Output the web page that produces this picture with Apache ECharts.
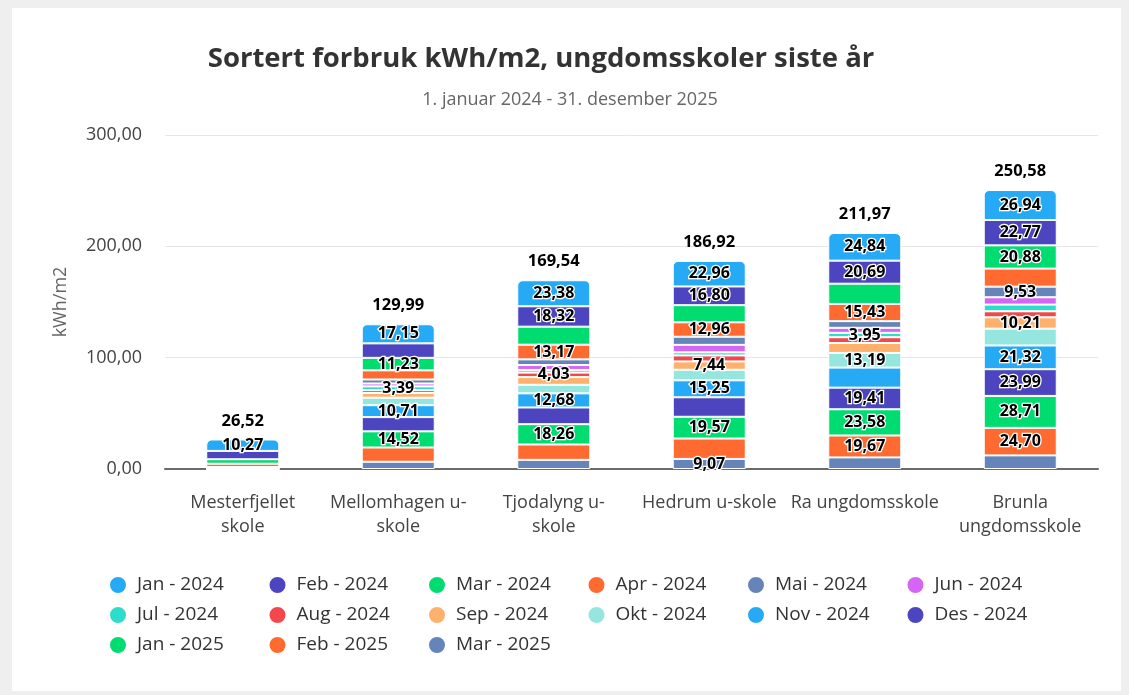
<!DOCTYPE html>
<html>
<head>
<meta charset="utf-8">
<script src="https://cdn.jsdelivr.net/npm/echarts@6/dist/echarts.min.js"></script>
<style>
  html, body {margin:0;padding:0;background:#efefef;}
  .card {position:absolute;left:12px;top:8px;width:1109px;height:683px;background:#fff;}
  #chart {position:absolute;left:0;top:0;width:1129px;height:695px;}
</style>
</head>
<body>
<div class="card"></div>
<div id="chart"></div>
<script>
    var schools = ['Mesterfjellet\nskole', 'Mellomhagen u-\nskole', 'Tjodalyng u-\nskole', 'Hedrum u-skole', 'Ra ungdomsskole', 'Brunla\nungdomsskole'];
    var months = ['Jan - 2024', 'Feb - 2024', 'Mar - 2024', 'Apr - 2024', 'Mai - 2024', 'Jun - 2024',
                  'Jul - 2024', 'Aug - 2024', 'Sep - 2024', 'Okt - 2024', 'Nov - 2024', 'Des - 2024',
                  'Jan - 2025', 'Feb - 2025', 'Mar - 2025'];
    var colors = ['#26aaf6', '#4d45bf', '#00dc70', '#ff6a30', '#6584b9', '#d566f5', '#2edccb', '#f4474b',
                  '#fdb16c', '#95e6df', '#26aaf6', '#4d45bf', '#00dc70', '#ff6a30', '#6584b9'];

    // kWh/m2 per skole, samme rekkefolge som months
    var mesterfjellet = [10.27, 7.5, 4.0, 3.0, 1.0, 0.3, 0.1, 0.1, 0.05, 0.05, 0.05, 0.05, 0.02, 0.01, 0.02];
    var mellomhagen = [17.15, 13.0, 11.23, 8.2, 3.6, 2.6, 3.39, 2.6, 4.2, 6.69, 10.71, 12.8, 14.52, 12.8, 6.5];
    var tjodalyng = [23.38, 18.32, 16.2, 13.17, 5.1, 4.4, 2.4, 4.03, 6.9, 7.7, 12.68, 15.0, 18.26, 13.8, 8.2];
    var hedrum = [22.96, 16.80, 15.4, 12.96, 7.3, 6.7, 2.8, 5.4, 7.44, 9.5, 15.25, 17.5, 19.57, 18.27, 9.07];
    var ra = [24.84, 20.69, 18.2, 15.43, 6.0, 4.5, 3.95, 5.2, 8.9, 13.19, 18.0, 19.41, 23.58, 19.67, 10.41];
    var brunla = [26.94, 22.77, 20.88, 16.2, 9.53, 6.6, 6.0, 5.4, 10.21, 15.1, 21.32, 23.99, 28.71, 24.70, 12.23];
    var values = [mesterfjellet, mellomhagen, tjodalyng, hedrum, ra, brunla];

    // hvilke maneder som har synlig verdi i stolpen
    var labelled = [[0], [0, 2, 6, 10, 12], [0, 1, 3, 7, 10, 12], [0, 1, 3, 8, 10, 12, 14],
                    [0, 1, 3, 6, 9, 11, 12, 13], [0, 1, 2, 4, 8, 10, 11, 12, 13]];

    var font = '"Open Sans", sans-serif';

    function fmt(v) {
        return v.toFixed(2).replace('.', ',');
    }

    var totals = values.map(function (row) {
        return row.reduce(function (a, b) { return a + b; }, 0);
    });

    var series = [];
    // forste maned skal ligge overst, sa serien legges inn baklengs
    for (var m = months.length - 1; m >= 0; m--) {
        series.push({
            name: months[m],
            type: 'bar',
            stack: 'sum',
            barWidth: 73,
            itemStyle: {
                color: colors[m],
                borderColor: '#fff',
                borderWidth: 1,
                borderRadius: m === 0 ? [5, 5, 0, 0] : 0
            },
            label: {
                position: 'inside',
                fontFamily: font,
                fontSize: 16,
                fontWeight: 'bold',
                color: '#000',
                textBorderColor: '#fff',
                textBorderWidth: 2.5,
                formatter: function (p) { return fmt(p.value); }
            },
            data: values.map(function (row, i) {
                return {value: row[m], label: {show: labelled[i].indexOf(m) >= 0}};
            })
        });
    }
    series.push({
        name: 'Sum',
        type: 'bar',
        stack: 'sum',
        barWidth: 73,
        itemStyle: {color: 'transparent'},
        label: {
            show: true,
            position: 'top',
            distance: 10,
            fontFamily: font,
            fontSize: 16.5,
            fontWeight: 'bold',
            color: '#000',
            formatter: function (p) { return fmt(totals[p.dataIndex]); }
        },
        data: totals.map(function () { return 0; })
    });

    var chart = echarts.init(document.getElementById('chart'));
    chart.setOption({
        animation: false,
        graphic: [
            {type: 'text', x: 541, y: 59, style: {text: 'Sortert forbruk kWh/m2, ungdomsskoler siste år', align: 'center',
                verticalAlign: 'middle', fontFamily: font, fontSize: 27.5, fontWeight: 'bold', fill: '#333'}},
            {type: 'text', x: 570, y: 100, style: {text: '1. januar 2024 - 31. desember 2025', align: 'center',
                verticalAlign: 'middle', fontFamily: font, fontSize: 18, fill: '#666'}}
        ],
        legend: {
            data: months,
            left: 108,
            top: 575,
            width: 960,
            padding: 0,
            icon: 'circle',
            itemWidth: 18,
            itemHeight: 18,
            itemGap: 10,
            textStyle: {fontFamily: font, fontSize: 19, color: '#333', width: 120.5, lineHeight: 18, padding: [0, 0, 0, 5]}
        },
        grid: {left: 165, right: 31, top: 135, bottom: 226, containLabel: false},
        xAxis: {
            type: 'category',
            data: schools,
            axisTick: {show: false},
            axisLine: {lineStyle: {color: '#6b6b6b', width: 2}},
            axisLabel: {fontFamily: font, fontSize: 18, color: '#444', lineHeight: 24, margin: 22, interval: 0}
        },
        yAxis: {
            type: 'value',
            min: 0,
            max: 300,
            interval: 100,
            name: 'kWh/m2',
            nameLocation: 'middle',
            nameGap: 95,
            nameTextStyle: {fontFamily: font, fontSize: 18, color: '#666'},
            axisLabel: {fontFamily: font, fontSize: 18, color: '#444', margin: 23, formatter: fmt},
            splitLine: {lineStyle: {color: '#e6e6e6'}}
        },
        series: series
    });
</script>
</body>
</html>
